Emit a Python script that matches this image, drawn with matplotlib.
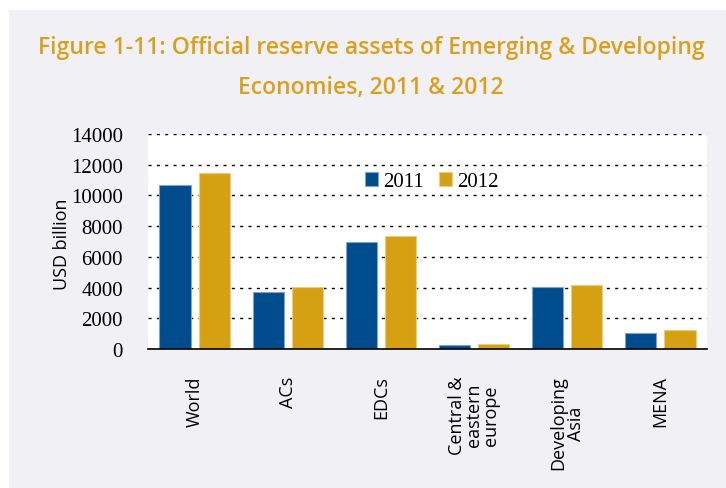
import matplotlib.pyplot as plt
import matplotlib.patches as mpatches
import numpy as np

plt.rcParams['lines.scale_dashes'] = False

regions = ['World', 'ACs', 'EDCs', 'Central &\neastern\neurope', 'Developing\nAsia', 'MENA']
reserves_2011 = [10700, 3720, 6950, 280, 4020, 1060]
reserves_2012 = [11450, 4020, 7380, 300, 4170, 1240]
yticks = [0, 2000, 4000, 6000, 8000, 10000, 12000, 14000]

blue = '#004C8C'
gold = '#D5A011'

fig = plt.figure(figsize=(7.26, 4.89), dpi=100)
# grey panel behind everything
fig.patches.append(mpatches.Rectangle((9 / 726, 0), 1, 1 - 11 / 489, transform=fig.transFigure,
                                      facecolor='#F0F0F5', edgecolor='none', zorder=-10))

fig.text(0.511, 1 - 48 / 489, 'Figure 1-11: Official reserve assets of Emerging & Developing',
         ha='center', va='center', fontsize=16.5, fontweight='semibold', family='Open Sans', color='#D9A01E')
fig.text(0.511, 1 - 88 / 489, 'Economies, 2011 & 2012',
         ha='center', va='center', fontsize=16.5, fontweight='semibold', family='Open Sans', color='#D9A01E')

ax = fig.add_axes([148 / 726, 1 - 350 / 489, 559 / 726, 215 / 489])
ax.set_zorder(5)
ax.set_facecolor('white')
x = np.arange(len(regions))
ax.bar(x - 0.21, reserves_2011, 0.335, color=blue, edgecolor='#7FA3C8', linewidth=0.8, label='2011', zorder=3)
ax.bar(x + 0.21, reserves_2012, 0.335, color=gold, edgecolor='#EACD80', linewidth=0.8, label='2012', zorder=3)

ax.set_xlim(-0.5, len(regions) - 0.5)
ax.set_ylim(0, 14000)
ax.set_yticks(yticks)
ax.set_yticklabels([str(v) for v in yticks], family='Liberation Serif', fontsize=15)
ax.tick_params(axis='y', length=0, pad=18)
# dotted horizontal gridlines (dash / gap in points)
ax.hlines(yticks[1:], -0.5, len(regions) - 0.5, colors='black', linestyles=(0, (2.2, 3.8)),
          linewidth=1.0, zorder=1)
for s in ['left', 'right', 'top']:
    ax.spines[s].set_visible(False)
ax.spines['bottom'].set_linewidth(1.2)
ax.spines['bottom'].set_zorder(4)

ax.set_xticks(x)
ax.set_xticklabels(regions, rotation=90, va='top', ha='center', multialignment='center',
                   family='Open Sans', fontsize=13, linespacing=0.95)
ax.tick_params(axis='x', length=0, pad=19)

ax.set_ylabel('USD billion', family='Open Sans', fontsize=13)
ax.yaxis.set_label_coords(-77 / 559, 0.49)

leg = ax.legend(loc='center', bbox_to_anchor=(0.508, 0.777), ncol=2, frameon=False,
                prop={'family': 'Liberation Serif', 'size': 15},
                handlelength=0.6, handleheight=0.6, handletextpad=0.25, columnspacing=0.75)

plt.savefig('out.png', dpi=100)
